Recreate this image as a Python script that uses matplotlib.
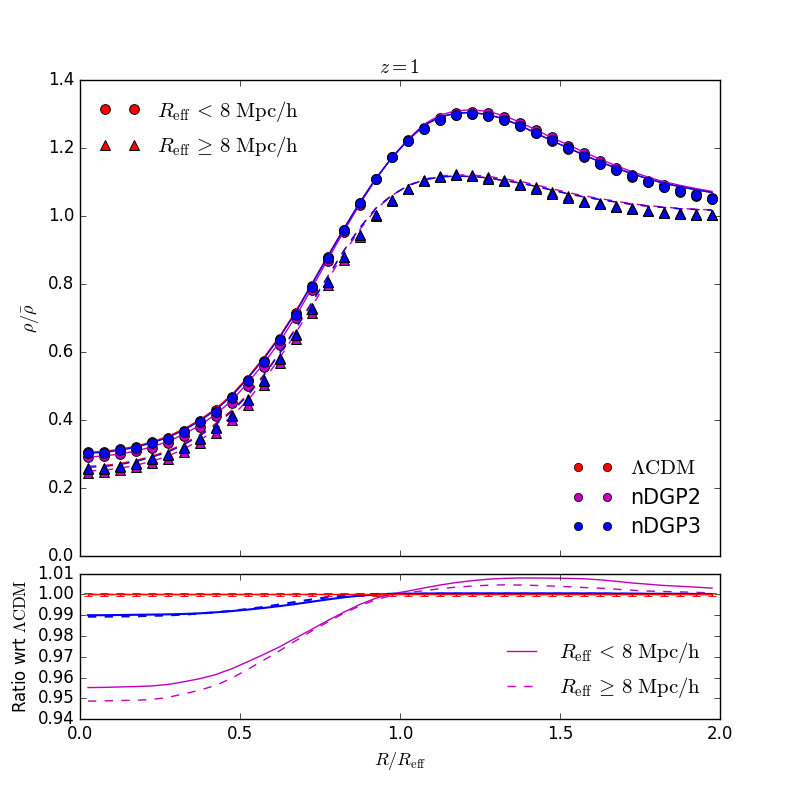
import numpy as np
import matplotlib
matplotlib.use("Agg")
import matplotlib.pyplot as plt
from matplotlib.lines import Line2D

plt.style.use("classic")
plt.rcParams["mathtext.fontset"] = "cm"

# radial bins R/R_eff
r = np.arange(0.025, 2.0, 0.05)

# stacked profiles, R_eff < 8 Mpc/h (circles)
lcdm_small = [0.305, 0.307, 0.314, 0.322, 0.334, 0.348, 0.369, 0.396, 0.428, 0.468,
              0.518, 0.574, 0.638, 0.714, 0.794, 0.878, 0.960, 1.038, 1.110, 1.173,
              1.221, 1.257, 1.282, 1.297, 1.299, 1.294, 1.282, 1.264, 1.243, 1.222,
              1.198, 1.175, 1.153, 1.134, 1.116, 1.099, 1.085, 1.072, 1.060, 1.049]
ndgp2_small = [0.291, 0.293, 0.300, 0.308, 0.319, 0.333, 0.354, 0.380, 0.412, 0.451,
               0.501, 0.557, 0.622, 0.699, 0.781, 0.867, 0.952, 1.033, 1.108, 1.173,
               1.223, 1.260, 1.287, 1.303, 1.307, 1.302, 1.291, 1.273, 1.252, 1.232,
               1.207, 1.184, 1.161, 1.141, 1.122, 1.104, 1.090, 1.076, 1.064, 1.052]
ndgp3_small = [0.302, 0.304, 0.311, 0.319, 0.331, 0.345, 0.366, 0.393, 0.424, 0.464,
               0.514, 0.570, 0.634, 0.710, 0.791, 0.876, 0.958, 1.037, 1.110, 1.173,
               1.221, 1.257, 1.282, 1.297, 1.299, 1.294, 1.282, 1.264, 1.243, 1.223,
               1.199, 1.176, 1.154, 1.135, 1.117, 1.099, 1.086, 1.073, 1.061, 1.049]

# stacked profiles, R_eff >= 8 Mpc/h (triangles)
lcdm_large = [0.258, 0.260, 0.266, 0.275, 0.288, 0.301, 0.322, 0.347, 0.379, 0.416,
              0.462, 0.519, 0.583, 0.653, 0.729, 0.807, 0.880, 0.943, 1.002, 1.046,
              1.079, 1.103, 1.115, 1.120, 1.117, 1.110, 1.102, 1.090, 1.079, 1.066,
              1.054, 1.041, 1.034, 1.027, 1.022, 1.014, 1.010, 1.007, 1.004, 1.002]
ndgp2_large = [0.245, 0.247, 0.252, 0.261, 0.273, 0.286, 0.307, 0.331, 0.362, 0.399,
               0.445, 0.503, 0.567, 0.639, 0.716, 0.796, 0.872, 0.938, 0.999, 1.045,
               1.080, 1.105, 1.118, 1.124, 1.121, 1.115, 1.107, 1.095, 1.084, 1.070,
               1.058, 1.044, 1.037, 1.030, 1.024, 1.016, 1.011, 1.008, 1.005, 1.003]
ndgp3_large = [0.256, 0.257, 0.263, 0.272, 0.285, 0.298, 0.319, 0.344, 0.376, 0.413,
               0.459, 0.516, 0.580, 0.651, 0.727, 0.806, 0.879, 0.943, 1.002, 1.046,
               1.079, 1.103, 1.115, 1.120, 1.117, 1.110, 1.102, 1.090, 1.079, 1.066,
               1.054, 1.041, 1.034, 1.027, 1.022, 1.014, 1.010, 1.007, 1.004, 1.002]

# LCDM fitted profiles
fit_lcdm_small = [0.305, 0.308, 0.314, 0.323, 0.336, 0.352, 0.374, 0.401, 0.434, 0.475,
                  0.527, 0.584, 0.648, 0.721, 0.802, 0.884, 0.964, 1.041, 1.111, 1.172,
                  1.223, 1.266, 1.291, 1.302, 1.304, 1.298, 1.285, 1.266, 1.243, 1.221,
                  1.200, 1.179, 1.159, 1.141, 1.124, 1.109, 1.096, 1.086, 1.077, 1.069]
fit_lcdm_large = [0.264, 0.266, 0.272, 0.281, 0.294, 0.309, 0.331, 0.357, 0.390, 0.429,
                  0.476, 0.534, 0.600, 0.672, 0.747, 0.824, 0.899, 0.966, 1.023, 1.061,
                  1.089, 1.106, 1.115, 1.117, 1.116, 1.112, 1.104, 1.097, 1.087, 1.076,
                  1.065, 1.056, 1.048, 1.041, 1.034, 1.029, 1.025, 1.021, 1.019, 1.017]

# ratio of fits wrt LCDM
ratio2_small = [0.9552, 0.9553, 0.9555, 0.9557, 0.9560, 0.9567, 0.9580, 0.9595, 0.9615, 0.9643,
                0.9677, 0.9712, 0.9749, 0.9791, 0.9833, 0.9875, 0.9915, 0.9952, 0.9982, 1.0003,
                1.0016, 1.0031, 1.0045, 1.0057, 1.0066, 1.0073, 1.0077, 1.0079, 1.0079, 1.0078,
                1.0077, 1.0075, 1.0070, 1.0063, 1.0055, 1.0049, 1.0043, 1.0039, 1.0035, 1.0030]
ratio3_small = [0.9900, 0.9900, 0.9901, 0.9902, 0.9903, 0.9904, 0.9906, 0.9909, 0.9914, 0.9920,
                0.9927, 0.9935, 0.9944, 0.9954, 0.9965, 0.9976, 0.9986, 0.9994, 0.9999, 1.0002,
                1.0003, 1.0004, 1.0005, 1.0005, 1.0005, 1.0005, 1.0005, 1.0005, 1.0005, 1.0005,
                1.0005, 1.0005, 1.0005, 1.0004, 1.0004, 1.0003, 1.0003, 1.0003, 1.0002, 1.0002]
ratio2_large = [0.9487, 0.9488, 0.9490, 0.9491, 0.9495, 0.9505, 0.9522, 0.9540, 0.9563, 0.9598,
                0.9640, 0.9685, 0.9730, 0.9778, 0.9825, 0.9868, 0.9910, 0.9945, 0.9975, 0.9995,
                1.0008, 1.0018, 1.0027, 1.0035, 1.0040, 1.0044, 1.0046, 1.0045, 1.0043, 1.0040,
                1.0037, 1.0033, 1.0030, 1.0025, 1.0020, 1.0016, 1.0014, 1.0012, 1.0010, 1.0007]
ratio3_large = [0.9893, 0.9893, 0.9894, 0.9895, 0.9897, 0.9899, 0.9903, 0.9908, 0.9914, 0.9921,
                0.9930, 0.9940, 0.9952, 0.9964, 0.9976, 0.9986, 0.9994, 0.9999, 1.0002, 1.0003,
                1.0003, 1.0003, 1.0003, 1.0003, 1.0003, 1.0003, 1.0003, 1.0003, 1.0003, 1.0003,
                1.0003, 1.0003, 1.0003, 1.0003, 1.0002, 1.0002, 1.0002, 1.0002, 1.0002, 1.0002]
lcdm_err = [0.0009] * 40

lab_small = r"$R_{\rm eff}\,<\,8\,\,{\rm Mpc/h}$"
lab_large = r"$R_{\rm eff}\,\geq\,8\,\,{\rm Mpc/h}$"

fig = plt.figure(figsize=(8, 8), dpi=100)
ax = fig.add_axes([0.1, 0.305, 0.8, 0.595])
axr = fig.add_axes([0.1, 0.101, 0.8, 0.182])

colors = {"lcdm": "r", "ndgp2": "m", "ndgp3": "b"}
small = {"lcdm": lcdm_small, "ndgp2": ndgp2_small, "ndgp3": ndgp3_small}
large = {"lcdm": lcdm_large, "ndgp2": ndgp2_large, "ndgp3": ndgp3_large}
ratio_s = {"lcdm": [1.0] * 40, "ndgp2": ratio2_small, "ndgp3": ratio3_small}
ratio_l = {"lcdm": [1.0] * 40, "ndgp2": ratio2_large, "ndgp3": ratio3_large}

for key in ["lcdm", "ndgp2", "ndgp3"]:
    c = colors[key]
    ax.plot(r, small[key], "o", color=c, mec="k", mew=0.7, ms=7)
    ax.plot(r, large[key], "^", color=c, mec="k", mew=0.7, ms=7.5)
    ax.plot(r, np.array(fit_lcdm_small) * np.array(ratio_s[key]), "-", color=c, lw=1)
    ax.plot(r, np.array(fit_lcdm_large) * np.array(ratio_l[key]), "--", color=c, lw=1)

ax.set_xlim(0, 2)
ax.set_ylim(0, 1.4)
ax.set_xticks([0, 0.5, 1.0, 1.5, 2.0])
ax.set_xticklabels([])
ax.set_yticks(np.arange(0, 1.41, 0.2))
ax.set_ylabel(r"$\rho/\bar{\rho}$", fontsize=13)
ax.set_title(r"$z=1$", fontsize=14)

h1 = [Line2D([], [], ls="none", marker="o", color="r", mec="k", mew=0.7, ms=7),
      Line2D([], [], ls="none", marker="^", color="r", mec="k", mew=0.7, ms=7)]
leg1 = ax.legend(h1, [lab_small, lab_large],
                 loc="upper left", numpoints=2, frameon=False, fontsize=15)
ax.add_artist(leg1)
h2 = [Line2D([], [], ls="none", marker="o", color=colors[k], mec="k", mew=0.5, ms=6)
      for k in ["lcdm", "ndgp2", "ndgp3"]]
ax.legend(h2, [r"$\Lambda{\rm CDM}$", "nDGP2", "nDGP3"], loc="lower right",
          numpoints=2, frameon=False, fontsize=15, labelspacing=0.45)

# ratio panel
for key in ["lcdm", "ndgp2", "ndgp3"]:
    c = colors[key]
    if key == "lcdm":
        axr.errorbar(r, ratio_s[key], yerr=lcdm_err, fmt="-", color=c, capsize=3)
        axr.errorbar(r, ratio_l[key], yerr=lcdm_err, fmt="--", color=c, capsize=3)
    else:
        lw = 1.5 if key == "ndgp3" else 1
        axr.plot(r, ratio_s[key], "-", color=c, lw=lw)
        axr.plot(r, ratio_l[key], "--", color=c, lw=lw)

axr.set_xlim(0, 2)
axr.set_ylim(0.94, 1.01)
axr.set_xticks([0, 0.5, 1.0, 1.5, 2.0])
axr.set_yticks(np.arange(0.94, 1.0101, 0.01))
axr.yaxis.set_major_formatter(matplotlib.ticker.FormatStrFormatter("%.2f"))
axr.set_xlabel(r"$R/R_{\rm eff}$", fontsize=13)
axr.set_ylabel(r"Ratio wrt $\Lambda{\rm CDM}$", fontsize=12)
h3 = [Line2D([], [], ls="-", color="m"), Line2D([], [], ls="--", color="m")]
axr.legend(h3, [lab_small, lab_large], loc="lower right", frameon=False, fontsize=15)

fig.savefig("out.png", dpi=100)
